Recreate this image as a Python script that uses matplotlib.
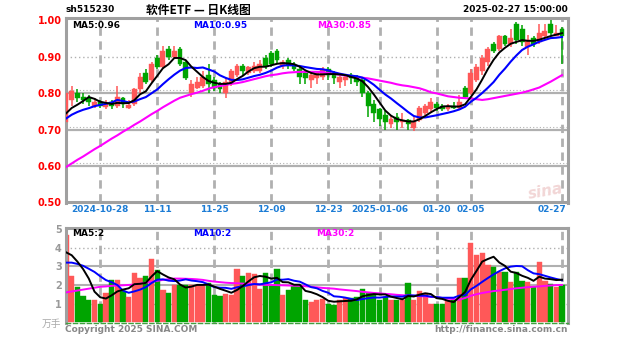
import matplotlib
matplotlib.use('Agg')
import matplotlib.pyplot as plt
import numpy as np
import pandas as pd

plt.rcParams['font.family'] = ['DejaVu Sans', 'Noto Sans CJK SC']

# ---------------- data ----------------
opens = [0.72,0.78,0.80,0.79,0.785,0.765,0.775,0.762,0.775,0.765,
         0.785,0.76,0.77,0.81,0.855,0.835,0.895,0.87,0.92,0.90,
         0.92,0.885,0.80,0.815,0.82,0.85,0.835,0.825,0.80,0.83,
         0.85,0.875,0.855,0.86,0.86,0.895,0.91,0.915,0.875,0.89,
         0.88,0.865,0.855,0.835,0.84,0.845,0.865,0.855,0.83,0.835,
         0.85,0.845,0.835,0.80,0.77,0.755,0.74,0.715,0.735,0.72,
         0.725,0.705,0.725,0.745,0.755,0.77,0.765,0.755,0.765,0.76,
         0.815,0.80,0.835,0.86,0.885,0.935,0.92,0.955,0.935,0.99,
         0.975,0.925,0.95,0.94,0.955,0.99,0.955,0.975]
closes = [0.80,0.805,0.785,0.78,0.775,0.775,0.765,0.77,0.765,0.79,
          0.77,0.768,0.81,0.845,0.83,0.88,0.87,0.915,0.90,0.915,
          0.88,0.84,0.825,0.83,0.845,0.825,0.815,0.81,0.83,0.86,
          0.875,0.86,0.87,0.875,0.88,0.875,0.88,0.89,0.885,0.875,
          0.865,0.845,0.84,0.85,0.855,0.865,0.85,0.84,0.845,0.845,
          0.84,0.83,0.80,0.765,0.745,0.73,0.72,0.73,0.72,0.725,
          0.715,0.72,0.76,0.765,0.775,0.76,0.755,0.765,0.76,0.775,
          0.79,0.855,0.87,0.895,0.92,0.915,0.955,0.935,0.95,0.945,
          0.94,0.945,0.935,0.965,0.97,0.965,0.965,0.955]
highs = [0.82,0.82,0.81,0.80,0.795,0.785,0.78,0.78,0.78,0.82,
         0.79,0.78,0.815,0.855,0.865,0.885,0.905,0.93,0.93,0.93,
         0.925,0.89,0.835,0.845,0.86,0.88,0.845,0.83,0.84,0.865,
         0.88,0.88,0.875,0.885,0.89,0.905,0.915,0.92,0.89,0.895,
         0.885,0.87,0.86,0.855,0.86,0.87,0.87,0.86,0.85,0.85,
         0.855,0.85,0.84,0.805,0.78,0.76,0.75,0.74,0.745,0.745,
         0.73,0.735,0.765,0.77,0.785,0.775,0.77,0.77,0.775,0.795,
         0.82,0.865,0.88,0.905,0.925,0.94,0.96,0.96,0.975,0.995,
         0.985,0.96,0.955,0.99,0.99,1.00,0.985,0.98]
lows = [0.715,0.765,0.775,0.77,0.765,0.76,0.76,0.755,0.755,0.76,
        0.76,0.755,0.765,0.80,0.825,0.83,0.865,0.865,0.89,0.895,
        0.875,0.835,0.79,0.81,0.815,0.80,0.805,0.80,0.785,0.82,
        0.845,0.85,0.85,0.855,0.855,0.865,0.87,0.88,0.865,0.865,
        0.86,0.825,0.825,0.815,0.825,0.835,0.835,0.825,0.815,0.82,
        0.825,0.82,0.79,0.735,0.72,0.71,0.70,0.705,0.70,0.705,
        0.70,0.695,0.72,0.74,0.745,0.75,0.75,0.75,0.755,0.755,
        0.785,0.795,0.83,0.85,0.875,0.91,0.915,0.93,0.925,0.935,
        0.93,0.905,0.925,0.935,0.95,0.96,0.955,0.88]
volumes = [4.7,2.5,1.9,1.4,1.2,1.2,1.0,1.55,2.25,2.25,
           1.7,1.35,2.65,2.35,2.5,3.4,2.8,1.75,1.55,2.0,
           2.0,2.0,2.0,2.0,2.0,2.1,1.45,1.4,1.5,1.45,
           2.85,2.5,2.65,2.6,1.8,2.65,2.0,2.85,1.45,1.75,
           2.0,2.0,1.2,1.1,1.2,1.25,1.0,0.95,1.2,1.3,
           1.3,1.35,1.8,1.55,1.55,1.2,1.35,1.2,1.2,1.2,
           2.1,1.2,1.7,1.55,1.0,1.0,1.0,1.2,1.2,2.35,
           2.35,4.25,3.6,3.7,3.05,2.95,2.7,2.7,2.15,2.7,
           2.2,2.15,1.9,3.25,2.2,2.05,1.9,2.0]
# earlier sessions (off-chart), inferred from where MA5/MA10 start
prior_closes = [0.70,0.71,0.72,0.73,0.72,0.73,0.74,0.73,0.72]
prior_volumes = [2.5,2.6,2.4,2.8,2.9,3.3,3.6,3.4,3.75]
# MA30 lines
ma30_price = [0.597,0.607,0.617,0.626,0.636,0.646,0.655,0.665,0.675,0.684,
              0.694,0.703,0.713,0.722,0.732,0.742,0.751,0.761,0.770,0.779,
              0.787,0.792,0.797,0.801,0.806,0.812,0.816,0.819,0.822,0.825,
              0.827,0.830,0.834,0.838,0.842,0.846,0.849,0.851,0.854,0.856,
              0.857,0.858,0.858,0.858,0.858,0.857,0.855,0.852,0.850,0.848,
              0.846,0.844,0.842,0.840,0.837,0.834,0.831,0.828,0.824,0.821,
              0.819,0.816,0.813,0.808,0.802,0.799,0.795,0.791,0.789,0.787,
              0.786,0.785,0.783,0.781,0.783,0.786,0.789,0.792,0.795,0.798,
              0.801,0.805,0.810,0.815,0.823,0.831,0.840,0.849]
ma30_vol = [1.6,1.65,1.7,1.75,1.8,1.85,1.9,1.92,1.95,1.97,
            1.98,2.0,2.02,2.07,2.12,2.17,2.22,2.27,2.31,2.34,
            2.34,2.33,2.32,2.3,2.27,2.22,2.18,2.15,2.12,2.1,
            2.09,2.07,2.05,2.04,2.02,2.0,2.0,1.99,1.98,1.97,
            1.96,1.95,1.93,1.9,1.87,1.84,1.82,1.8,1.76,1.73,
            1.7,1.67,1.63,1.6,1.57,1.55,1.52,1.5,1.47,1.45,
            1.43,1.42,1.4,1.38,1.36,1.34,1.3,1.27,1.24,1.21,
            1.3,1.42,1.5,1.57,1.62,1.67,1.7,1.74,1.78,1.82,
            1.85,1.88,1.9,1.92,1.95,1.97,1.99,2.0]
tick_idx = [6, 16, 26, 36, 46, 55, 65, 71, 87]
tick_labels = ['2024-10-28', '11-11', '11-25', '12-09', '12-23',
               '2025-01-06', '01-20', '02-05', '02-27']
price_ticks = [0.50, 0.60, 0.70, 0.80, 0.90, 1.00]
vol_ticks = [1, 2, 3, 4, 5]

# ---------------- derived ----------------
n = len(closes)
x = np.arange(n)
c_all = pd.Series(prior_closes + closes)
v_all = pd.Series(prior_volumes + volumes)
ma5 = c_all.rolling(5).mean().values[-n:]
ma10 = c_all.rolling(10).mean().values[-n:]
vma5 = v_all.rolling(5).mean().values[-n:]
vma10 = v_all.rolling(10).mean().values[-n:]
O = np.array(opens); C = np.array(closes)
H = np.array(highs); L = np.array(lows)
up = C >= O

RED = '#ff5858'
GREEN = '#00a400'
GRID = '#b0b0b0'
cols = np.where(up, RED, GREEN)

W, Hpx = 627, 342
fig = plt.figure(figsize=(W / 100, Hpx / 100), dpi=100)
fig.patch.set_facecolor('white')

def fx(px):
    return px / W

def fy(py):
    return 1 - py / Hpx

xl = (0.0, 88.05)

# ---------------- price panel ----------------
top, bot = 18.2, 202.5
ax = fig.add_axes([fx(66), fy(bot), fx(568) - fx(66), fy(top) - fy(bot)])
ax.set_xlim(*xl)
ax.set_ylim(0.50, 1.005)
for p in [0.60, 0.70, 0.80]:
    ax.axhline(p, color=GRID, lw=1.6, zorder=0)
    ax.axhline(p + 0.008, color=GRID, lw=0.8, ls=(0, (1, 2)), zorder=0)
ax.axhline(0.90, color=GRID, lw=1.0, ls=(0, (1, 2)), zorder=0)
for t in tick_idx:
    ax.axvline(t, color=GRID, lw=2.0, ls=(0, (3, 2)), zorder=0)

ax.vlines(x, L, H, colors=cols, lw=1.1, zorder=2)
body_h = np.maximum(np.abs(C - O), 0.003)
ax.bar(x, body_h, bottom=np.minimum(O, C), width=0.85, color=cols,
       edgecolor=cols, linewidth=0.3, zorder=3)
ax.plot(x, ma30_price, color='#ff00ff', lw=1.5, zorder=4)
ax.plot(x, ma10, color='#0000ff', lw=1.5, zorder=5)
ax.plot(x, ma5, color='black', lw=1.4, zorder=6)

ax.set_yticks(price_ticks)
ax.set_yticklabels(['%.2f' % p for p in price_ticks], color='#ff0000',
                   fontsize=7, fontweight='bold')
ax.tick_params(axis='y', length=0, pad=3)
ax.set_xticks([])
for s in ax.spines.values():
    s.set_color('#a0a0a0')
    s.set_linewidth(2.2)

ax.text(0.012, 0.985, 'MA5:%.2f' % 0.96, transform=ax.transAxes,
        ha='left', va='top', fontsize=6.5, fontweight='bold', color='black')
ax.text(fx(193 - 66) / fx(502), 0.985, 'MA10:%.2f' % 0.95, transform=ax.transAxes,
        ha='left', va='top', fontsize=6.5, fontweight='bold', color='#0000ff')
ax.text(fx(317 - 66) / fx(502), 0.985, 'MA30:%.2f' % 0.85, transform=ax.transAxes,
        ha='left', va='top', fontsize=6.5, fontweight='bold', color='#ff00ff')
ax.text(0.955, 0.06, 'sina', transform=ax.transAxes, ha='center', va='center',
        fontsize=11, fontweight='bold', style='italic', color='#f2d6d6',
        rotation=10, zorder=1)

# date labels
for t, lab in zip(tick_idx, tick_labels):
    xp = 66 + (t - xl[0]) / (xl[1] - xl[0]) * 502
    ha = 'center'
    if t == tick_idx[-1]:
        xp, ha = 566, 'right'
    fig.text(fx(xp), fy(210), lab, ha=ha, va='center', fontsize=6.5,
             fontweight='bold', color='#1c7cd5')

# titles
fig.text(fx(66), fy(10), 'sh515230', ha='left', va='center', fontsize=6.5,
         fontweight='bold', color='black')
fig.text(fx(198), fy(10), '软件ETF — 日K线图', ha='center', va='center',
         fontsize=8.5, fontweight='bold', color='black',
         family=['Noto Sans CJK SC', 'DejaVu Sans'])
fig.text(fx(568), fy(10), '2025-02-27 15:00:00', ha='right', va='center',
         fontsize=6.5, fontweight='bold', color='black')

# ---------------- volume panel ----------------
vtop, vbot = 228, 323
axv = fig.add_axes([fx(66), fy(vbot), fx(568) - fx(66), fy(vtop) - fy(vbot)])
axv.set_xlim(*xl)
axv.set_ylim(-0.04, 5.05)
for v in [2, 3]:
    axv.axhline(v, color=GRID, lw=1.5, zorder=0)
for v in [1, 4]:
    axv.axhline(v, color=GRID, lw=1.0, ls=(0, (1, 2)), zorder=0)
for t in tick_idx:
    axv.axvline(t, color=GRID, lw=2.0, ls=(0, (3, 2)), zorder=0)
axv.bar(x, volumes, width=0.92, color=cols, edgecolor=cols, linewidth=0.3, zorder=2)
axv.plot(x, ma30_vol, color='#ff00ff', lw=1.4, zorder=3)
axv.plot(x, vma10, color='#0000ff', lw=1.4, zorder=4)
axv.plot(x, vma5, color='black', lw=1.4, zorder=5)
axv.set_yticks(vol_ticks)
axv.set_yticklabels([str(v) for v in vol_ticks], color='#999999',
                    fontsize=7, fontweight='bold')
axv.tick_params(axis='y', length=0, pad=3)
axv.set_xticks([])
for s in axv.spines.values():
    s.set_color('#a0a0a0')
    s.set_linewidth(2.2)
axv.spines['bottom'].set_color('#40a040')
axv.spines['bottom'].set_linestyle((0, (3, 2)))
axv.spines['bottom'].set_linewidth(1.0)

axv.text(0.012, 0.985, 'MA5:2', transform=axv.transAxes, ha='left', va='top',
         fontsize=6.5, fontweight='bold', color='black')
axv.text(fx(193 - 66) / fx(502), 0.985, 'MA10:2', transform=axv.transAxes,
         ha='left', va='top', fontsize=6.5, fontweight='bold', color='#0000ff')
axv.text(fx(316 - 66) / fx(502), 0.985, 'MA30:2', transform=axv.transAxes,
         ha='left', va='top', fontsize=6.5, fontweight='bold', color='#ff00ff')

fig.text(fx(61), fy(324), '万手', ha='right', va='center', fontsize=7,
         color='#aaaaaa', family=['Noto Sans CJK SC', 'DejaVu Sans'])
fig.text(fx(65), fy(330), 'Copyright 2025 SINA.COM', ha='left', va='center',
         fontsize=6.5, fontweight='bold', color='#888888')
fig.text(fx(568), fy(330), 'http://finance.sina.com.cn', ha='right', va='center',
         fontsize=6.5, fontweight='bold', color='#888888')

fig.savefig('out.png', dpi=100, facecolor='white')
